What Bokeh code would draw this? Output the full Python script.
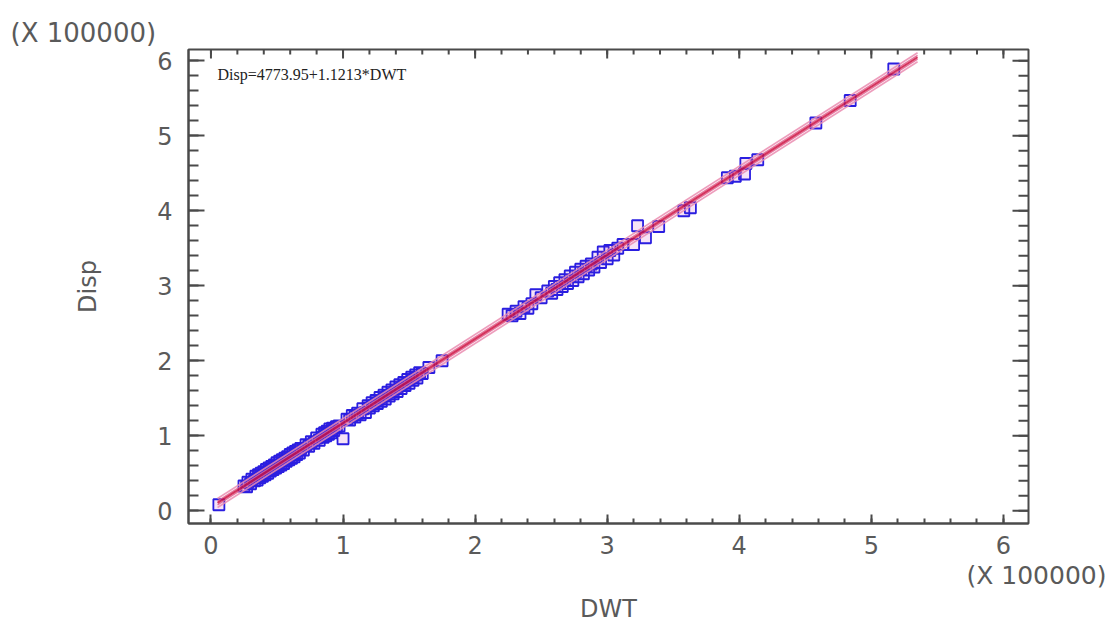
from bokeh.plotting import figure
from bokeh.models import Range1d, FixedTicker, Label, Title
from bokeh.embed import file_html
from bokeh.resources import INLINE

# DWT and Disp values, in units of 100000
dwt = [0.06,
       0.25, 0.27, 0.28, 0.30, 0.31, 0.33, 0.34, 0.35, 0.36, 0.37, 0.38, 0.39, 0.40, 0.41, 0.42,
       0.43, 0.44, 0.45, 0.46, 0.47, 0.48, 0.49, 0.50, 0.51, 0.52, 0.53, 0.54, 0.55, 0.56, 0.57,
       0.58, 0.59, 0.60, 0.61, 0.62, 0.63, 0.64, 0.65, 0.66, 0.67, 0.68, 0.70, 0.72, 0.74, 0.76,
       0.78, 0.80, 0.82, 0.84, 0.85, 0.86, 0.87, 0.88, 0.89, 0.90, 0.91, 0.92, 0.93, 0.95, 0.97,
       1.00,
       1.03, 1.05, 1.07, 1.09, 1.11, 1.13, 1.15, 1.17, 1.19, 1.20, 1.22, 1.23, 1.25, 1.26, 1.28,
       1.29, 1.31, 1.32, 1.34, 1.35, 1.37, 1.38, 1.40, 1.41, 1.43, 1.44, 1.46, 1.47, 1.49, 1.50,
       1.52, 1.53, 1.55, 1.56, 1.58, 1.60, 1.65, 1.75,
       2.25, 2.28, 2.31, 2.34, 2.37, 2.40, 2.43, 2.46, 2.50, 2.55, 2.58, 2.60, 2.62, 2.64, 2.66,
       2.68, 2.70, 2.72, 2.74, 2.76, 2.78, 2.80, 2.82, 2.84, 2.86, 2.88, 2.90, 2.93, 2.95, 2.97,
       3.00, 3.02, 3.05, 3.08, 3.12,
       3.20, 3.23, 3.29, 3.39, 3.58, 3.63, 3.91, 3.97, 4.04, 4.05, 4.14, 4.58, 4.84, 5.17]
disp = [0.08,
        0.33, 0.32, 0.38, 0.36, 0.42, 0.40, 0.46, 0.41, 0.48, 0.44, 0.50, 0.46, 0.52, 0.48, 0.55,
        0.50, 0.57, 0.53, 0.59, 0.55, 0.61, 0.57, 0.64, 0.59, 0.66, 0.61, 0.68, 0.63, 0.70, 0.66,
        0.72, 0.68, 0.75, 0.70, 0.77, 0.72, 0.79, 0.75, 0.81, 0.77, 0.83, 0.81, 0.88, 0.86, 0.92,
        0.90, 0.97, 0.94, 1.02, 0.98, 1.04, 1.00, 1.06, 1.02, 1.09, 1.04, 1.10, 1.07, 1.12, 1.13,
        0.96,
        1.22, 1.21, 1.27, 1.25, 1.30, 1.28, 1.36, 1.31, 1.40, 1.37, 1.44, 1.40, 1.47, 1.43, 1.51,
        1.46, 1.54, 1.49, 1.58, 1.53, 1.61, 1.56, 1.65, 1.59, 1.68, 1.63, 1.71, 1.67, 1.75, 1.70,
        1.78, 1.74, 1.81, 1.77, 1.84, 1.83, 1.91, 2.00,
        2.62, 2.60, 2.66, 2.63, 2.72, 2.70, 2.76, 2.88, 2.84, 2.93, 2.90, 2.99, 2.95, 3.04, 2.99,
        3.08, 3.03, 3.13, 3.07, 3.18, 3.12, 3.22, 3.16, 3.26, 3.21, 3.29, 3.25, 3.38, 3.31, 3.45,
        3.36, 3.47, 3.41, 3.50, 3.55,
        3.55, 3.80, 3.64, 3.79, 4.00, 4.04, 4.44, 4.46, 4.49, 4.63, 4.68, 5.17, 5.47, 5.89]

# fitted model: Disp = 4773.95 + 1.1213*DWT
intercept = 4773.95
slope = 1.1213
scale = 100000.0
fit_x_range = [0.05, 5.35]
band_conf = 0.025
band_pred = 0.06

ticks = [0, 1, 2, 3, 4, 5, 6]
minor_ticks = [round(i * 0.2, 1) for i in range(-1, 32)]
equation = "Disp=4773.95+1.1213*DWT"
scale_label = "(X 100000)"

X_RANGE = (-0.17, 6.19)
Y_RANGE = (-0.17, 6.15)
W, H = 1113, 623
BL, BR, BT, BB = 188, 85, 49, 100

FONT = "DejaVu Sans"
GREY = "#5a5a5a"
FRAME = "#4a4a4a"

p = figure(width=W, height=H, output_backend="svg", toolbar_location=None,
           x_range=Range1d(*X_RANGE), y_range=Range1d(*Y_RANGE),
           min_border_left=BL, min_border_right=BR, min_border_top=BT, min_border_bottom=BB,
           y_axis_label="Disp")
p.grid.visible = False
p.background_fill_color = "white"
p.border_fill_color = "white"
p.outline_line_color = FRAME
p.outline_line_width = 2

X_TICK, X_MINOR, Y_TICK, Y_MINOR = 9, 5, 16, 10
for ax in p.xaxis:
    ax.ticker = FixedTicker(ticks=ticks, minor_ticks=minor_ticks)
    ax.major_tick_in = X_TICK
    ax.minor_tick_in = X_MINOR
    ax.major_label_standoff = 12
for ax in p.yaxis:
    ax.ticker = FixedTicker(ticks=ticks, minor_ticks=minor_ticks)
    ax.major_tick_in = Y_TICK
    ax.minor_tick_in = Y_MINOR
    ax.major_label_standoff = 16
    ax.axis_label_standoff = 52
for ax in list(p.xaxis) + list(p.yaxis):
    ax.major_tick_out = 0
    ax.minor_tick_out = 0
    ax.axis_line_color = FRAME
    ax.axis_line_width = 2
    ax.major_tick_line_color = FRAME
    ax.major_tick_line_width = 2
    ax.minor_tick_line_color = FRAME
    ax.minor_tick_line_width = 2
    ax.major_label_text_font = FONT
    ax.major_label_text_font_size = "24px"
    ax.major_label_text_color = GREY
    ax.axis_label_text_font = FONT
    ax.axis_label_text_font_size = "24px"
    ax.axis_label_text_color = GREY
    ax.axis_label_text_font_style = "normal"

# mirrored inward ticks on top and right edges of the frame
px_x = (W - BL - BR) / (X_RANGE[1] - X_RANGE[0])
px_y = (H - BT - BB) / (Y_RANGE[1] - Y_RANGE[0])
top, right = Y_RANGE[1], X_RANGE[1]
for tl, length in ((ticks, X_TICK), (minor_ticks, X_MINOR)):
    xs = [t for t in tl if X_RANGE[0] < t < X_RANGE[1]]
    p.segment(x0=xs, y0=[top] * len(xs), x1=xs, y1=[top - length / px_y] * len(xs),
              line_color=FRAME, line_width=2)
for tl, length in ((ticks, Y_TICK), (minor_ticks, Y_MINOR)):
    ys = [t for t in tl if Y_RANGE[0] < t < Y_RANGE[1]]
    p.segment(x0=[right] * len(ys), y0=ys, x1=[right - length / px_x] * len(ys), y1=ys,
              line_color=FRAME, line_width=2)

# points
p.scatter(dwt, disp, marker="square", size=11, line_color="#2a1ee0", line_width=1.8,
          fill_color="#c040c0", fill_alpha=0.15)

# fit and limits
fx = fit_x_range
fy = [intercept / scale + slope * v for v in fx]
for off, col, w in ((band_pred, "#ea8cb0", 1.6), (band_conf, "#e0608e", 1.4)):
    p.line(fx, [v + off for v in fy], line_color=col, line_width=w, line_alpha=0.85)
    p.line(fx, [v - off for v in fy], line_color=col, line_width=w, line_alpha=0.85)
p.line(fx, fy, line_color="#cc1040", line_width=2, line_alpha=0.85)

p.add_layout(Label(x=0.05, y=5.70, text=equation, text_font="Liberation Serif",
                   text_font_size="16px", text_color="#222222"))

# texts outside the frame
p.add_layout(Title(text=scale_label, align="left", offset=-178, standoff=4,
                   text_font=FONT, text_font_size="26px", text_color=GREY,
                   text_font_style="normal"), "above")
p.add_layout(Title(text=scale_label, align="right", offset=-78, standoff=4,
                   text_font=FONT, text_font_size="25px", text_color=GREY,
                   text_font_style="normal"), "below")
p.add_layout(Title(text="DWT", align="center", standoff=2,
                   text_font=FONT, text_font_size="24px", text_color=GREY,
                   text_font_style="normal"), "below")

open("out.html", "w").write(file_html(p, INLINE))
